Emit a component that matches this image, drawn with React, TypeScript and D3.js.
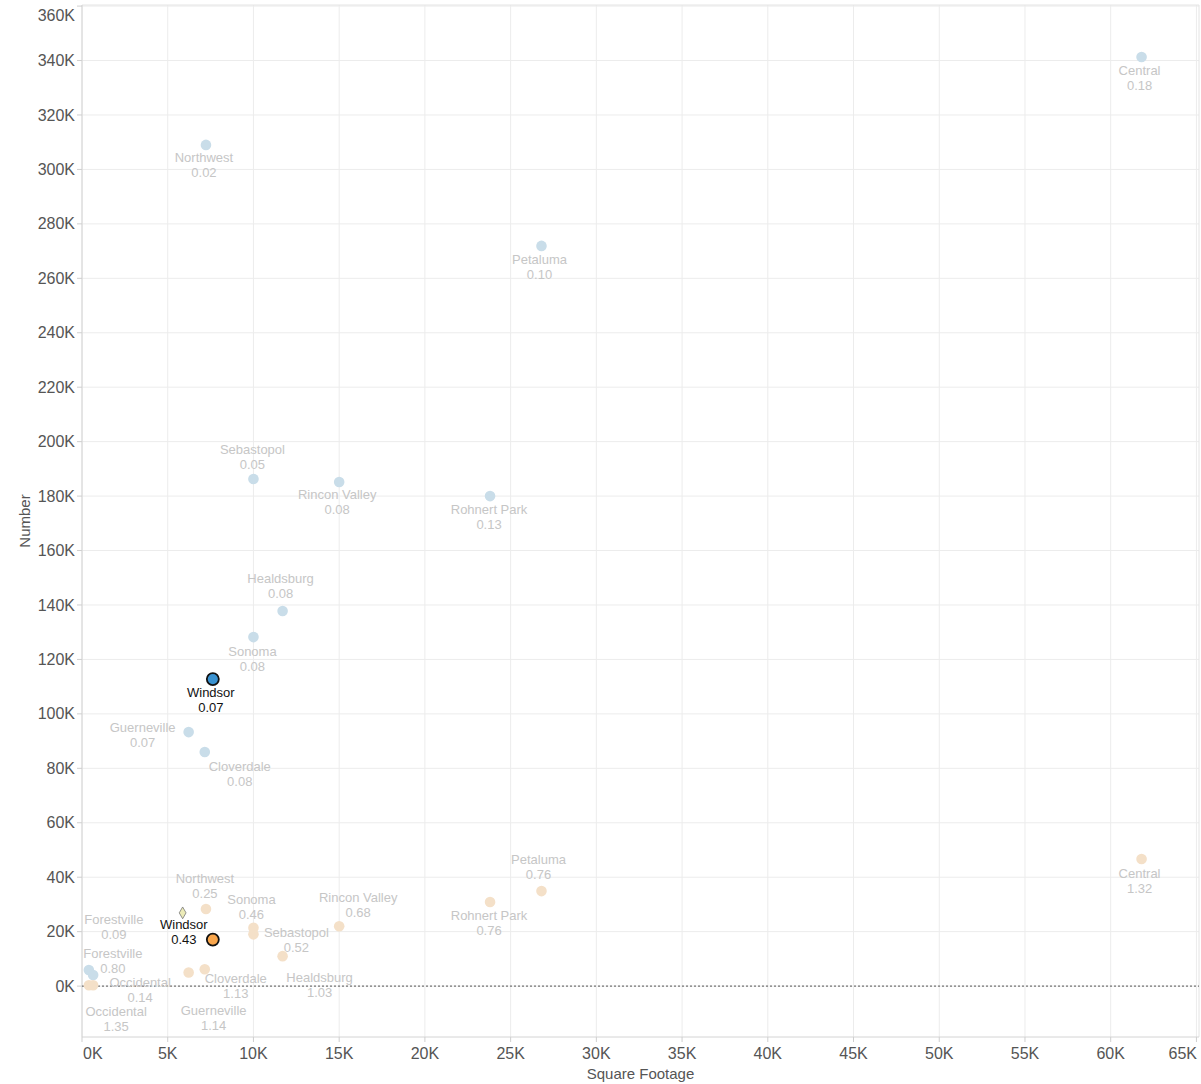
import React from "react";
import * as d3 from "d3";

const cities = ["Central", "Northwest", "Petaluma", "Sebastopol", "Rincon Valley", "Rohnert Park", "Healdsburg", "Sonoma", "Windsor", "Guerneville", "Cloverdale", "Forestville", "Occidental"];
const squareFootage = [61800, 7230, 26800, 10000, 15000, 23800, 11700, 10000, 7630, 6220, 7160, 400, 650];
const numberBlue = [341300, 309000, 271900, 186300, 185200, 180000, 137800, 128200, 112800, 93300, 86000, 5900, 4100];
const ratioBlue = ["0.18", "0.02", "0.10", "0.05", "0.08", "0.13", "0.08", "0.08", "0.07", "0.07", "0.08", "0.09", "0.14"];
const numberOrange = [46700, 28300, 34900, 19000, 22000, 30900, 11000, 21400, 17100, 5000, 6200, 300, 300];
const ratioOrange = ["1.32", "0.25", "0.76", "0.52", "0.68", "0.76", "1.03", "0.46", "0.43", "1.14", "1.13", "0.80", "1.35"];
const highlight = "Windsor";
const refPoint = { x: 5870, y: 26900 };

const xTicks = d3.range(0, 65001, 5000);
const yTicks = d3.range(0, 360001, 20000);

// label placement (offset from mark, px)
const blueLabelPos: Record<string, [number, number]> = {
  Central: [-2, 13], Northwest: [-2, 13], Petaluma: [-2, 14], Sebastopol: [-1, -29],
  "Rincon Valley": [-2, 13], "Rohnert Park": [-1, 13], Healdsburg: [-2, -33], Sonoma: [-1, 14],
  Windsor: [-2, 13], Guerneville: [-46, -5], Cloverdale: [35, 14], Forestville: [25, -51], Occidental: [47, 8],
};
const orangeLabelPos: Record<string, [number, number]> = {
  Central: [-2, 14], Petaluma: [-3, -32], "Rohnert Park": [-1, 13], Northwest: [-1, -31],
  "Rincon Valley": [19, -29], Sonoma: [-2, -28], Sebastopol: [43, -2], Healdsburg: [37, 21],
  Windsor: [-29, -15], Cloverdale: [31, 9], Guerneville: [25, 38], Forestville: [24, -32], Occidental: [23, 26],
};

const W = 1201, H = 1084;
const left = 82, right = 1199, top = 5, bottom = 1037;
const FONT = "Arial, 'Liberation Sans', sans-serif";

export default function App() {
  const x = d3.scaleLinear().domain([0, 65150]).range([left, right]);
  const y = d3.scaleLinear().domain([-18700, 360400]).range([bottom, top]);
  const fmt = (v: number) => `${Math.round(v / 1000)}K`;

  const series = [
    { values: numberBlue, labels: ratioBlue, light: "#c9dde9", dark: "#3a92d0", pos: blueLabelPos },
    { values: numberOrange, labels: ratioOrange, light: "#f4e0c8", dark: "#f9a64c", pos: orangeLabelPos },
  ];

  const marks: any[] = [];
  series.forEach((s, si) => {
    cities.forEach((c, i) => {
      marks.push({ key: `${si}-${c}`, city: c, cx: x(squareFootage[i]), cy: y(s.values[i]), label: s.labels[i], s, hl: c === highlight });
    });
  });
  const ordered = [...marks.filter((m) => !m.hl), ...marks.filter((m) => m.hl)];
  const lastX = xTicks[xTicks.length - 1];

  return (
    <svg width={W} height={H} style={{ display: "block", position: "absolute", left: 0, top: 0 }} fontFamily={FONT}>
      <rect x={0} y={0} width={W} height={H} fill="#fff" />
      {xTicks.map((t) => (
        <line key={`gx${t}`} x1={x(t)} x2={x(t)} y1={top} y2={bottom} stroke="#ececec" strokeWidth={1} />
      ))}
      {yTicks.map((t) => (
        <line key={`gy${t}`} x1={left} x2={right} y1={y(t)} y2={y(t)} stroke="#ececec" strokeWidth={1} />
      ))}
      <line x1={left} x2={right} y1={top} y2={top} stroke="#e4e4e4" />
      <line x1={right} x2={right} y1={top} y2={bottom} stroke="#e4e4e4" />
      <line x1={left} x2={left} y1={top} y2={bottom} stroke="#d4d4d4" />
      <line x1={left} x2={right} y1={bottom} y2={bottom} stroke="#d4d4d4" />
      {yTicks.map((t) => (
        <g key={`ty${t}`}>
          <line x1={left - 5} x2={left} y1={y(t)} y2={y(t)} stroke="#cfcfcf" />
          <text x={left - 7} y={Math.max(y(t), 15)} dy="0.35em" textAnchor="end" fontSize={16} fill="#555">{fmt(t)}</text>
        </g>
      ))}
      {xTicks.map((t) => (
        <g key={`tx${t}`}>
          <line x1={x(t)} x2={x(t)} y1={bottom} y2={bottom + 5} stroke="#cfcfcf" />
          <text
            x={t === 0 ? left + 1 : t === lastX ? right - 2 : x(t)}
            y={1053}
            dy="0.35em"
            textAnchor={t === 0 ? "start" : t === lastX ? "end" : "middle"}
            fontSize={16}
            fill="#555"
          >{fmt(t)}</text>
        </g>
      ))}
      <text x={(left + right) / 2} y={1074} dy="0.35em" textAnchor="middle" fontSize={15} fill="#555">Square Footage</text>
      <text transform={`translate(25,${(top + bottom) / 2}) rotate(-90)`} dy="0.35em" textAnchor="middle" fontSize={15} fill="#555">Number</text>
      <line x1={left} x2={right} y1={y(0)} y2={y(0)} stroke="#555" strokeWidth={1} strokeDasharray="2,2" />
      <path
        d={d3.symbol(d3.symbolDiamond, 40)() as string}
        transform={`translate(${x(refPoint.x)},${y(refPoint.y)})`}
        fill="#ecebb8"
        stroke="#777"
        strokeWidth={0.8}
      />
      {ordered.map((m) => (
        <circle key={m.key} cx={m.cx} cy={m.cy} r={m.hl ? 6 : 5.3}
          fill={m.hl ? m.s.dark : m.s.light} stroke={m.hl ? "#111" : "none"} strokeWidth={m.hl ? 1.8 : 0} />
      ))}
      {ordered.map((m) => {
        const [dx, dy] = m.s.pos[m.city];
        const col = m.hl ? "#111" : "#c6c6c6";
        return (
          <g key={`l${m.key}`} fontSize={13} fill={col} textAnchor="middle">
            <text x={m.cx + dx} y={m.cy + dy} dy="0.35em">{m.city}</text>
            <text x={m.cx + dx} y={m.cy + dy + 15} dy="0.35em">{m.label}</text>
          </g>
        );
      })}
    </svg>
  );
}
